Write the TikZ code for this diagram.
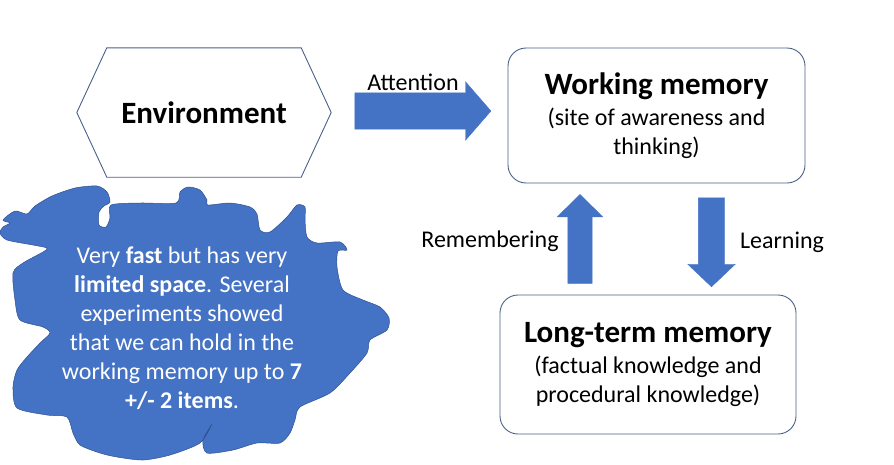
\documentclass[tikz,border=0pt]{standalone}
\usepackage{fontspec}
\setmainfont{Carlito}
\usetikzlibrary{shapes.arrows}
\definecolor{officeblue}{HTML}{4472C4}
\definecolor{darkblue}{HTML}{2F528F}
\definecolor{boxline}{HTML}{4A6187}

\tikzset{
    membox/.style={draw=boxline, line width=0.9pt, rounded corners=18pt, align=center, font=\fontsize{24}{29}\selectfont},
    blockarrow/.style={single arrow, fill=officeblue, draw=officeblue, inner xsep=0pt},
    lbl/.style={font=\fontsize{24}{29}\selectfont}
}
\newcommand{\boxtitle}[1]{{\fontsize{31}{36}\selectfont\bfseries #1}}

\begin{document}
\begin{tikzpicture}[x=1pt, y=-1pt]
    \useasboundingbox (0,0) rectangle (894,464);
    % environment hexagon
    \node[minimum width=254pt, minimum height=129pt, inner sep=0pt] (env) at (204,112.5) {\boxtitle{Environment}};
    \draw[boxline, line width=0.9pt] (env.west) -- ([xshift=30pt]env.north west) -- ([xshift=-30pt]env.north east)
        -- (env.east) -- ([xshift=-30pt]env.south east) -- ([xshift=30pt]env.south west) -- cycle;
    % memory boxes
    \node[membox, minimum width=297pt, minimum height=135pt] (wm) at (656.5,115.5)
        {\boxtitle{Working memory}\\[2pt] (site of awareness and\\ thinking)};
    \node[membox, minimum width=296pt, minimum height=139pt] (ltm) at (648,364.5)
        {\boxtitle{Long-term memory}\\[2pt] (factual knowledge and\\ procedural knowledge)};
    % block arrows
    \node[blockarrow, minimum height=136pt, inner ysep=18pt, single arrow head extend=11pt,
        single arrow tip angle=98] (att) at (415,111) {};
    \node[blockarrow, rotate=90, minimum height=89pt, inner ysep=12pt, single arrow head extend=10.5pt,
        single arrow tip angle=91] (rem) at (580,245) {};
    \node[blockarrow, rotate=-90, minimum height=89pt, inner ysep=13pt, single arrow head extend=10.5pt,
        single arrow tip angle=93] (learn) at (711.5,236) {};
    \node[lbl] (attlbl) at (413,82) {Attention};
    \node[lbl] (remlbl) at (490,241) {Remembering};
    \node[lbl] (learnlbl) at (782,242) {Learning};
    % blob with the note
    \filldraw[fill=officeblue, draw=darkblue, line width=0.5pt] plot[smooth cycle, tension=0.45] coordinates {
        (3,220) (15,211) (27,214) (35,206) (52,196) (75,188) (97,186) (107,192) (110,202)
        (104,206) (99,212) (99,225) (106,227) (110,218) (111,205) (140,203) (176,203)
        (180,192) (188,187) (200,190) (207,200) (208,205) (230,203) (250,207) (257,214)
        (260,230) (270,232) (287,217) (297,205) (305,207) (305,220) (307,237) (317,243)
        (340,242) (347,250) (338,251) (337,267) (343,290) (363,300) (380,307) (389,318)
        (387,330) (370,340) (367,353) (350,373) (330,393) (300,407) (295,420) (290,433)
        (280,443) (257,443) (233,450) (207,453) (203,440) (212,424) (200,443) (170,455)
        (143,460) (117,457) (100,453) (80,445) (73,433) (67,417) (47,415) (17,408)
        (13,387) (17,370) (27,357) (40,343) (50,333) (43,327) (20,320) (15,300) (13,273)
        (23,263) (43,252) (47,248) (33,245) (7,240) (0,233) (3,227) (10,223)};
    \node[lbl, text=white, align=center] (note) at (182,328.5)
        {Very \textbf{fast} but has very\\ \textbf{limited space}. Several\\ experiments showed\\
         that we can hold in the\\ working memory up to \textbf{7}\\ \textbf{+/- 2 items}.};
\end{tikzpicture}
\end{document}
